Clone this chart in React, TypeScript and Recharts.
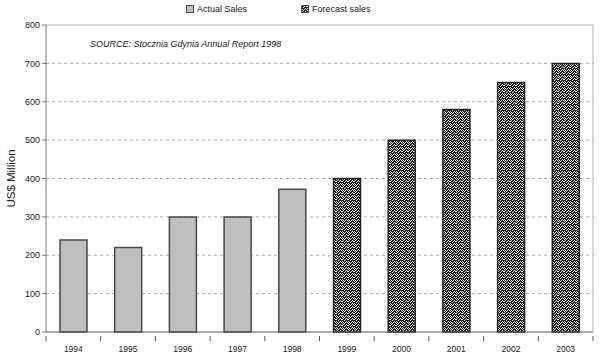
import React from "react";
import { BarChart, Bar, Cell, XAxis, YAxis, CartesianGrid, Legend } from "recharts";

const years = ["1994", "1995", "1996", "1997", "1998", "1999", "2000", "2001", "2002", "2003"];
const actualSales = [240, 220, 300, 300, 372, null, null, null, null, null];
const forecastSales = [null, null, null, null, null, 400, 500, 580, 650, 700];
const yTicks = [0, 100, 200, 300, 400, 500, 600, 700, 800];

const data = years.map((year, i) => ({
  year,
  sales: actualSales[i] ?? forecastSales[i],
  forecast: actualSales[i] == null,
}));

const FONT = "'Liberation Sans', Arial, sans-serif";
const ACTUAL_FILL = "#bfbfbf";
const BAR_STROKE = "#4a4a4a";

// scattered light pixels on a dark ground, like the old spreadsheet fill
const dotPixels = [
  [1, 0], [4, 0], [0, 1], [3, 1], [5, 1], [2, 2], [0, 3], [4, 3], [1, 4], [3, 4], [5, 4], [2, 5], [0, 5],
];

const DotPattern = ({ id }: { id: string }) => (
  <pattern id={id} width={6} height={6} patternUnits="userSpaceOnUse">
    <rect width={6} height={6} fill="#1e1e1e" />
    {dotPixels.map(([px, py], i) => (
      <rect key={i} x={px} y={py} width={1} height={1} fill={i % 3 === 0 ? "#cfcfcf" : "#f4f4f4"} />
    ))}
  </pattern>
);

const XTick = (props: any) => {
  const { x, y, payload, index } = props;
  const half = payload?.offset ?? 27;
  const last = index === years.length - 1;
  return (
    <g>
      <line x1={x - half} y1={y - 4} x2={x - half} y2={y + 1} stroke="#555" />
      {last && <line x1={x + half} y1={y - 4} x2={x + half} y2={y + 1} stroke="#555" />}
      <text x={x} y={y + 12} textAnchor="middle" fontSize={8.5} fontFamily={FONT} fill="#222">
        {payload.value}
      </text>
    </g>
  );
};

const LegendContent = () => (
  <div style={{ display: "flex", marginLeft: 186, fontFamily: FONT, fontSize: 9, color: "#222", lineHeight: "12px" }}>
    <span style={{ display: "flex", alignItems: "center", marginRight: 54 }}>
      <svg width={8} height={8} style={{ marginRight: 3 }}>
        <rect x={0.5} y={0.5} width={7} height={7} fill={ACTUAL_FILL} stroke={BAR_STROKE} />
      </svg>
      Actual Sales
    </span>
    <span style={{ display: "flex", alignItems: "center" }}>
      <svg width={8} height={8} style={{ marginRight: 3 }}>
        <defs>
          <DotPattern id="dotsLegend" />
        </defs>
        <rect x={0.5} y={0.5} width={7} height={7} fill="url(#dotsLegend)" stroke={BAR_STROKE} />
      </svg>
      Forecast sales
    </span>
  </div>
);

export default function App() {
  return (
    <div style={{ position: "absolute", left: 0, top: 0, width: 600, height: 357, background: "#fff" }}>
      <BarChart
        width={600}
        height={357}
        data={data}
        margin={{ top: 13, right: 6, left: 0, bottom: 0 }}
        barSize={27}
      >
        <defs>
          <DotPattern id="dots" />
        </defs>
        <CartesianGrid vertical={false} horizontalValues={[100, 200, 300, 400, 500, 600, 700]} stroke="#a8a8a8" strokeDasharray="3 3" />
        <CartesianGrid vertical={false} horizontalValues={[800]} stroke="#b0b0b0" />
        <XAxis
          dataKey="year"
          height={25}
          stroke="#555"
          tickLine={false}
          tick={<XTick />}
          interval={0}
        />
        <YAxis
          domain={[0, 800]}
          ticks={yTicks}
          width={46}
          stroke="#777"
          tickSize={4}
          tick={{ fontSize: 9, fontFamily: FONT, fill: "#222" }}
          label={{
            content: (p: any) => {
              const vb = p.viewBox || { y: 25, height: 307 };
              const cy = vb.y + vb.height / 2;
              return (
                <text
                  x={15}
                  y={cy}
                  transform={`rotate(-90, 15, ${cy})`}
                  textAnchor="middle"
                  fontSize={11.5}
                  fontFamily={FONT}
                  fill="#222"
                >
                  US$ Million
                </text>
              );
            },
          }}
        />
        <YAxis
          yAxisId="frame"
          orientation="right"
          width={1}
          domain={[0, 800]}
          tick={false}
          tickLine={false}
          stroke="#b0b0b0"
        />
        <Legend verticalAlign="top" content={<LegendContent />} wrapperStyle={{ top: 3, left: 0, width: 600 }} />
        <Bar dataKey="sales" strokeWidth={1.5} isAnimationActive={false}>
          {data.map((d, i) => (
            <Cell key={i} fill={d.forecast ? "url(#dots)" : ACTUAL_FILL} stroke={d.forecast ? "#222" : BAR_STROKE} />
          ))}
        </Bar>
      </BarChart>
      <div
        style={{
          position: "absolute",
          left: 90,
          top: 39,
          fontFamily: FONT,
          fontSize: 9,
          fontStyle: "italic",
          color: "#222",
        }}
      >
        SOURCE: Stocznia Gdynia Annual Report 1998
      </div>
    </div>
  );
}
